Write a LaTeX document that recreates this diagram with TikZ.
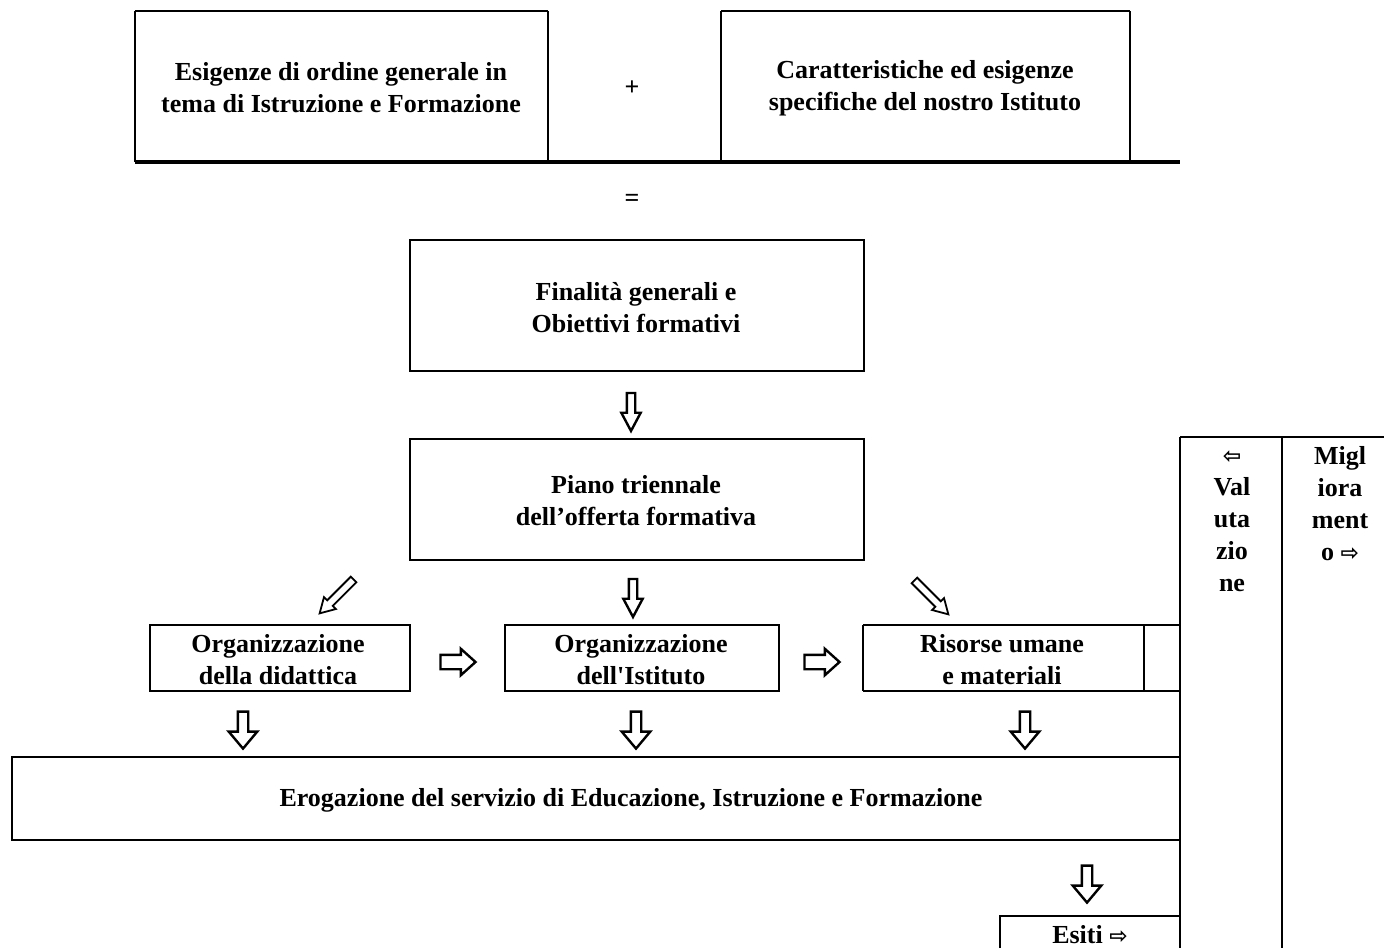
\documentclass[tikz,border=0pt]{standalone}
\usepackage{fontspec}
\setmainfont{Liberation Serif}
\newfontfamily\rawserif{Liberation Serif}
\newfontfamily\symfont{DejaVu Sans}
\usetikzlibrary{shapes.arrows}

\tikzset{
  cell/.style={font=\fontsize{26}{32}\selectfont\bfseries, align=center, inner sep=0pt},
  rule/.style={line width=2.8pt},
  bigrule/.style={line width=4pt},
  hollow/.style={single arrow, draw, fill=white, line width=2.4pt,
    text height=0pt, text depth=0pt, text width=0pt, inner xsep=0pt},
  thinarrow/.style={hollow, inner ysep=3pt, minimum height=38pt,
    single arrow head extend=5.5pt, single arrow tip angle=56},
  fatarrow/.style={hollow, inner ysep=4pt, minimum height=37pt,
    single arrow head extend=9pt, single arrow tip angle=80},
  sidearrow/.style={hollow, inner ysep=6pt, minimum height=35pt,
    single arrow head extend=6pt, single arrow tip angle=84},
  slantarrow/.style={hollow, line width=1.8pt, inner ysep=3pt, minimum height=48pt,
    single arrow head extend=4.5pt, single arrow tip angle=60},
}
\newcommand{\frsx}{{\symfont\fontsize{22}{22}\selectfont ⇦}}
\newcommand{\frdx}{{\symfont\fontsize{22}{22}\selectfont ⇨}}

\begin{document}
\begin{tikzpicture}[x=1pt,y=-1pt]
\useasboundingbox (0,0) rectangle (1384,948);

% prima riga
\draw[rule] (135,11) -- (548,11) (721,11) -- (1130,11);
\draw[rule] (135,11) -- (135,162) (548,11) -- (548,162)
  (721,11) -- (721,162) (1130,11) -- (1130,162);
\draw[bigrule] (135,162) -- (1180,162);
\node[cell] (esig) at (341,88) {Esigenze di ordine generale in\\tema di Istruzione e Formazione};
\node[cell] (plus) at (632,88) {+};
\node[cell] (caratt) at (925,88) {Caratteristiche ed esigenze\\specifiche del nostro Istituto};
\node[cell] (uguale) at (632,200) {=};

% finalita e piano
\draw[rule] (410,240) rectangle (864,371);
\node[cell] (final) at (636,308) {Finalità generali e\\Obiettivi formativi};
\node[thinarrow, rotate=-90] (af) at (631,408) {};
\draw[rule] (410,439) rectangle (864,560);
\node[cell] (piano) at (636,501) {Piano triennale\\dell’offerta formativa};

% frecce dal piano
\node[slantarrow, rotate=-135] (asx) at (339,594) {};
\node[thinarrow, rotate=-90] (amid) at (633,594) {};
\node[slantarrow, rotate=-45] (adx) at (929,595) {};

% seconda riga
\draw[rule] (150,625) rectangle (410,691);
\node[cell] (orgdid) at (278,660) {Organizzazione\\della didattica};
\node[sidearrow] (ar1) at (454,662) {};
\draw[rule] (505,625) rectangle (779,691);
\node[cell] (orgist) at (641,660) {Organizzazione\\dell{\rawserif\bfseries '}Istituto};
\node[sidearrow] (ar2) at (818,662) {};
\draw[rule] (863,625) -- (1180,625) (863,691) -- (1180,691)
  (863,625) -- (863,691) (1144,625) -- (1144,691);
\node[cell] (risorse) at (1002,660) {Risorse umane\\e materiali};

% frecce verso erogazione
\node[fatarrow, rotate=-90] (ad1) at (243,727) {};
\node[fatarrow, rotate=-90] (ad2) at (636,727) {};
\node[fatarrow, rotate=-90] (ad3) at (1025,727) {};

% erogazione
\draw[rule] (1180,757) -- (12,757) -- (12,840) -- (1180,840);
\node[cell] (erog) at (631,800) {Erogazione del servizio di Educazione, Istruzione e Formazione};
\node[fatarrow, rotate=-90] (ad4) at (1087,881) {};

% esiti
\draw[rule] (1000,948) -- (1000,916) -- (1180,916);
\node[cell] (esiti) at (1090,935) {Esiti \frdx};

% colonna a destra
\draw[rule] (1180,437) -- (1384,437);
\draw[rule] (1180,437) -- (1180,948) (1282,437) -- (1282,948);
\node[cell, anchor=north] (valut) at (1232,446) {\vphantom{M}\frsx\\Val\\uta\\zio\\ne};
\node[cell, anchor=north] (miglio) at (1340,446) {Migl\\iora\\ment\\o \frdx};
\end{tikzpicture}
\end{document}
